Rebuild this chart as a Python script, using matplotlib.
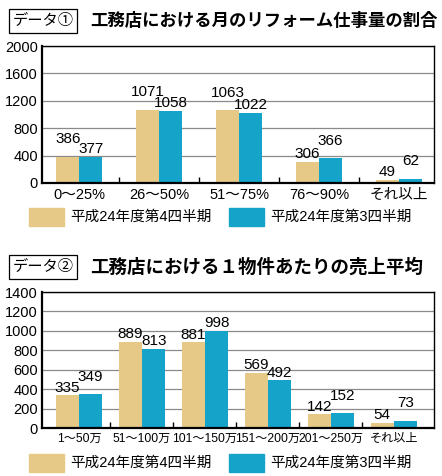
import matplotlib
matplotlib.use("Agg")
import matplotlib.pyplot as plt
from matplotlib.patches import Rectangle
import numpy as np

plt.rcParams['font.family'] = ['Liberation Sans', 'Noto Sans CJK JP', 'DejaVu Sans']

# data
series_names = ["平成24年度第4四半期", "平成24年度第3四半期"]

cats1 = ["0～25%", "26～50%", "51～75%", "76～90%", "それ以上"]
q4_1 = [386, 1071, 1063, 306, 49]
q3_1 = [377, 1058, 1022, 366, 62]
yticks1 = [0, 400, 800, 1200, 1600, 2000]

cats2 = ["1～50万", "51～100万", "101～150万", "151～200万", "201～250万", "それ以上"]
q4_2 = [335, 889, 881, 569, 142, 54]
q3_2 = [349, 813, 998, 492, 152, 73]
yticks2 = [0, 200, 400, 600, 800, 1000, 1200, 1400]

TAN = "#e6c986"
BLUE = "#16a3c9"

W, H = 442, 476
fig = plt.figure(figsize=(W / 100, H / 100), dpi=100)


def fx(px):
    return px / W


def fy(py):
    return 1 - py / H


def draw_chart(top, bottom, cats, a, b, yticks, xlim, width, catsize, box_label,
               title, title_size, legend_y):
    ax = fig.add_axes([fx(42), fy(bottom), fx(434 - 42), (bottom - top) / H])
    x = np.arange(len(cats))
    ax.bar(x - width / 2, a, width, color=TAN, zorder=2)
    ax.bar(x + width / 2, b, width, color=BLUE, zorder=2)
    ymax = yticks[-1]
    ax.set_ylim(0, ymax)
    ax.set_xlim(*xlim)
    ax.set_yticks(yticks)
    ax.set_yticklabels([str(t) for t in yticks], fontsize=10.5)
    ax.tick_params(axis='y', length=0, pad=3)
    ax.grid(axis='y', color='#8a8a8a', lw=0.9, zorder=1)
    ax.set_xticks(x[:-1] + 0.5)
    ax.set_xticklabels([])
    ax.tick_params(axis='x', direction='in', length=4, width=1)
    for i, c in enumerate(cats):
        ax.text(i, -0.035 * ymax, c, ha='center', va='top', fontsize=catsize,
                transform=ax.transData)
    for s in ['left', 'bottom']:
        ax.spines[s].set_linewidth(1.6)
    for s in ['top', 'right']:
        ax.spines[s].set_linewidth(1.0)
    # value labels
    for i in range(len(cats)):
        va_, vb = a[i], b[i]
        close = abs(va_ - vb) < 0.05 * ymax
        oa = 0.5 + (7 if close and va_ > vb else 0)
        ob = 0.5 + (7 if close and vb > va_ else 0)
        ax.annotate(str(va_), (i - width / 2, va_), xytext=(0, oa), textcoords='offset points',
                    ha='center', va='bottom', fontsize=11)
        ax.annotate(str(vb), (i + width / 2, vb), xytext=(0, ob), textcoords='offset points',
                    ha='center', va='bottom', fontsize=11)
    # header
    ty = top - 25
    fig.text(fx(43), fy(ty), box_label, ha='center', va='center', fontsize=11,
             family=['Noto Sans CJK JP', 'DejaVu Sans'],
             bbox=dict(boxstyle='square,pad=0.25', fc='white', ec='black', lw=0.9))
    fig.text(fx(90), fy(ty), title, ha='left', va='center', fontsize=title_size,
             fontweight='bold', family=['Noto Sans CJK JP', 'DejaVu Sans'])
    # legend
    for k, (px, color) in enumerate([(29, TAN), (229, BLUE)]):
        fig.patches.append(Rectangle((fx(px), fy(legend_y + 9)), fx(35), 18 / H,
                                     transform=fig.transFigure, color=color))
        fig.text(fx(px + 41), fy(legend_y), series_names[k], ha='left', va='center',
                 fontsize=10.5)


draw_chart(46, 183, cats1, q4_1, q3_1, yticks1, (-0.467, 4.44), 0.29, 10.5,
           "データ①", "工務店における月のリフォーム仕事量の割合", 12.5, 217)
draw_chart(292, 428, cats2, q4_2, q3_2, yticks2, (-0.587, 5.635), 0.37, 8.7,
           "データ②", "工務店における１物件あたりの売上平均", 13.3, 463)

fig.savefig("out.png", dpi=100)
